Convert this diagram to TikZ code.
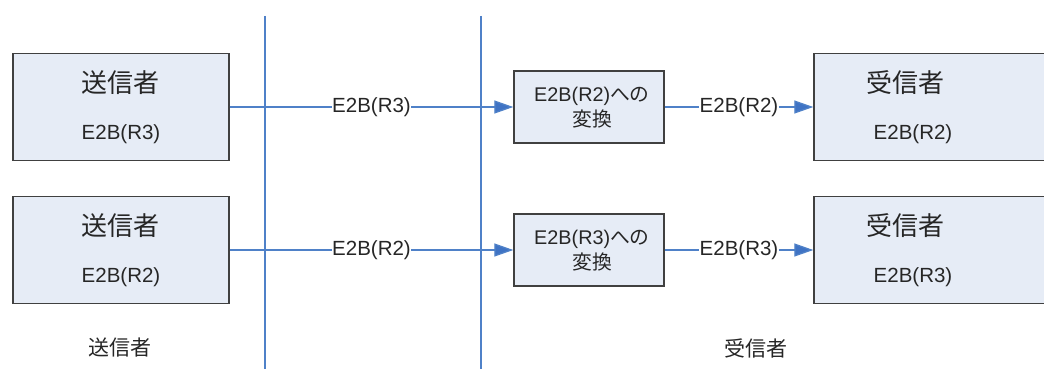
\documentclass[tikz,border=0pt]{standalone}
\usepackage{fontspec}
\setmainfont{Liberation Sans}
\newfontfamily\jp{Noto Sans CJK JP}
\usetikzlibrary{arrows.meta}
\definecolor{boxfill}{HTML}{E6ECF6}
\definecolor{boxline}{HTML}{404040}
\definecolor{flow}{HTML}{4F81C8}
\definecolor{tip}{HTML}{3F73C4}
\tikzset{
  bigbox/.style={draw=boxline, line width=1.4pt, fill=boxfill, minimum width=216pt, minimum height=107pt, inner sep=0pt},
  convbox/.style={draw=boxline, line width=1.4pt, fill=boxfill, minimum width=150pt, minimum height=72pt, inner sep=0pt},
  title/.style={font=\jp\fontsize{26}{29}\selectfont, text=black!85, inner sep=0pt},
  code/.style={font=\fontsize{20.5}{24}\selectfont, text=black!85, inner sep=0pt},
  convtext/.style={font=\fontsize{19.8}{25}\selectfont, text=black!85, align=center, inner sep=0pt},
  linelabel/.style={font=\fontsize{20.5}{24}\selectfont, text=black!85, fill=white, inner xsep=0.5pt, inner ysep=2pt},
  caption/.style={font=\jp\fontsize{21}{24}\selectfont, text=black!85, inner sep=0pt},
  flowline/.style={draw=flow, line width=1.3pt},
  flowarrow/.style={flowline, -{Triangle[length=19pt,width=13pt,fill=tip]}}
}
\begin{document}
\begin{tikzpicture}[x=1pt,y=-1pt]
\useasboundingbox (0,0) rectangle (1044,369);
\clip (0,0) rectangle (1044,369);
% swimlane separators
\coordinate (v1t) at (265,16);
\coordinate (v1b) at (265,369);
\coordinate (v2t) at (481,16);
\coordinate (v2b) at (481,369);
\draw[flowline] (v1t) -- (v1b);
\draw[flowline] (v2t) -- (v2b);
% senders
\node[bigbox] (s1) at (121,107) {};
\node[title] (s1t) at (120,83) {送信者};
\node[code] (s1c) at (121,134) {E2B(R3)};
\node[bigbox] (s2) at (121,250) {};
\node[title] (s2t) at (120,226) {送信者};
\node[code] (s2c) at (121,277) {E2B(R2)};
% conversion
\node[convbox] (m1) at (589,107) {};
\node[convtext] (m1t) at (592,108) {E2B(R2){\jp への}\\{\jp 変換}};
\node[convbox] (m2) at (589,250) {};
\node[convtext] (m2t) at (592,251) {E2B(R3){\jp への}\\{\jp 変換}};
% receivers
\node[bigbox, minimum width=246pt] (r1) at (937,107) {};
\node[title] (r1t) at (905,83) {受信者};
\node[code] (r1c) at (913,134) {E2B(R2)};
\node[bigbox, minimum width=246pt] (r2) at (937,250) {};
\node[title] (r2t) at (905,226) {受信者};
\node[code] (r2c) at (913,277) {E2B(R3)};
% flows
\draw[flowarrow] (s1.east) -- node[linelabel, pos=0.5] (l1) {E2B(R3)} (m1.west);
\draw[flowarrow] (s2.east) -- node[linelabel, pos=0.5] (l2) {E2B(R2)} (m2.west);
\draw[flowarrow] (m1.east) -- node[linelabel, pos=0.5] (l3) {E2B(R2)} (r1.west);
\draw[flowarrow] (m2.east) -- node[linelabel, pos=0.5] (l4) {E2B(R3)} (r2.west);
% lane captions
\node[caption] (cs) at (120,348) {送信者};
\node[caption] (cr) at (756,348) {受信者};
\end{tikzpicture}
\end{document}
